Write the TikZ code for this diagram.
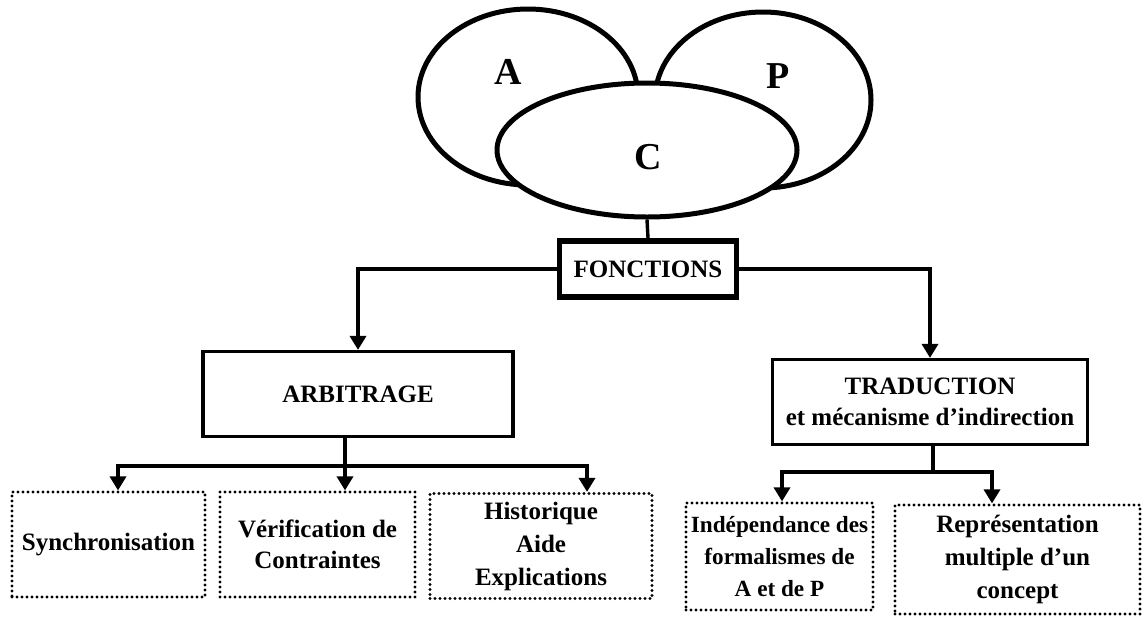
\documentclass[tikz,border=0pt]{standalone}
\usepackage{fontspec}
\setmainfont{Liberation Serif}
\usetikzlibrary{shapes.geometric,arrows.meta}
\begin{document}
\begin{tikzpicture}[x=0.5pt,y=-0.5pt,
  oval/.style={ellipse,draw,line width=2.5pt,inner sep=0pt},
  solidbox/.style={draw,line width=1.6pt,inner sep=0pt},
  heavybox/.style={draw,line width=2.8pt,inner sep=0pt},
  dotbox/.style={draw,line width=1.6pt,dash pattern=on 0pt off 2.5pt,line cap=round,inner sep=0pt},
  lbl/.style={font=\bfseries\fontsize{12.5}{15.5}\selectfont,align=center},
  big/.style={font=\bfseries\fontsize{19}{21}\selectfont},
  link/.style={line width=1.7pt},
  arr/.style={link,-{Triangle[width=8pt,length=7pt]}}]
\useasboundingbox (0,0) rectangle (1145,616);

% the three overlapping ovals
\node[oval,minimum width=110pt,minimum height=88pt] (A) at (528,97) {};
\node[oval,minimum width=108pt,minimum height=88pt] (P) at (763,100) {};
\node[oval,fill=white,minimum width=150pt,minimum height=67pt] (C) at (647,150) {};
\node[big] (Alab) at (508,72) {A};
\node[big] (Plab) at (778,76) {P};
\node[big] (Clab) at (648,157) {C};

% central box
\node[heavybox,lbl,minimum width=88.5pt,minimum height=28pt] (F) at (648,269) {FONCTIONS};
\draw[link] (C.south) -- (F.north);

% second level
\node[solidbox,lbl,minimum width=155pt,minimum height=42.5pt] (arb) at (358,394) {ARBITRAGE};
\node[solidbox,lbl,minimum width=157.5pt,minimum height=42.5pt] (tra) at (930,402)
  {TRADUCTION\\et mécanisme d'indirection};
\draw[arr] (F.west) -| (arb.north);
\draw[arr] (F.east) -| (tra.north);

% third level, left branch
\node[dotbox,lbl,minimum width=96.5pt,minimum height=52.5pt] (sync) at (108.5,544.5) {Synchronisation};
\node[dotbox,lbl,minimum width=97.5pt,minimum height=52.5pt] (verif) at (317.5,544.5) {Vérification de\\Contraintes};
\node[dotbox,lbl,minimum width=111pt,minimum height=52.5pt,font=\bfseries\fontsize{12.5}{16.5}\selectfont] (hist) at (541,546) {Historique\\Aide\\Explications};

\coordinate (arbj) at (345,466);
\coordinate (syncin) at ([xshift=4.75pt]sync.north);
\coordinate (verifin) at ([xshift=13.75pt]verif.north);
\coordinate (histin) at ([xshift=23pt]hist.north);
\draw[link] (arb.south -| arbj) -- (arbj);
\draw[arr] (arbj) -| (syncin);
\draw[arr] (arbj) -- (verifin);
\draw[arr] (arbj) -| (histin);

% third level, right branch
\node[dotbox,lbl,minimum width=93.5pt,minimum height=53.5pt,font=\bfseries\fontsize{11.6}{16}\selectfont] (ind) at (779.5,556.5) {Indépendance des\\formalismes de\\A et de P};
\node[dotbox,lbl,minimum width=122.5pt,minimum height=54.5pt,font=\bfseries\fontsize{12.5}{16.5}\selectfont] (rep) at (1017.5,559.5) {Représentation\\multiple d'un\\concept};

\coordinate (traj) at (933,472);
\coordinate (indin) at ([xshift=1.25pt]ind.north);
\coordinate (repin) at ([xshift=-12.75pt]rep.north);
\draw[link] (tra.south -| traj) -- (traj);
\draw[arr] (traj) -| (indin);
\draw[arr] (traj) -| (repin);
\end{tikzpicture}
\end{document}
